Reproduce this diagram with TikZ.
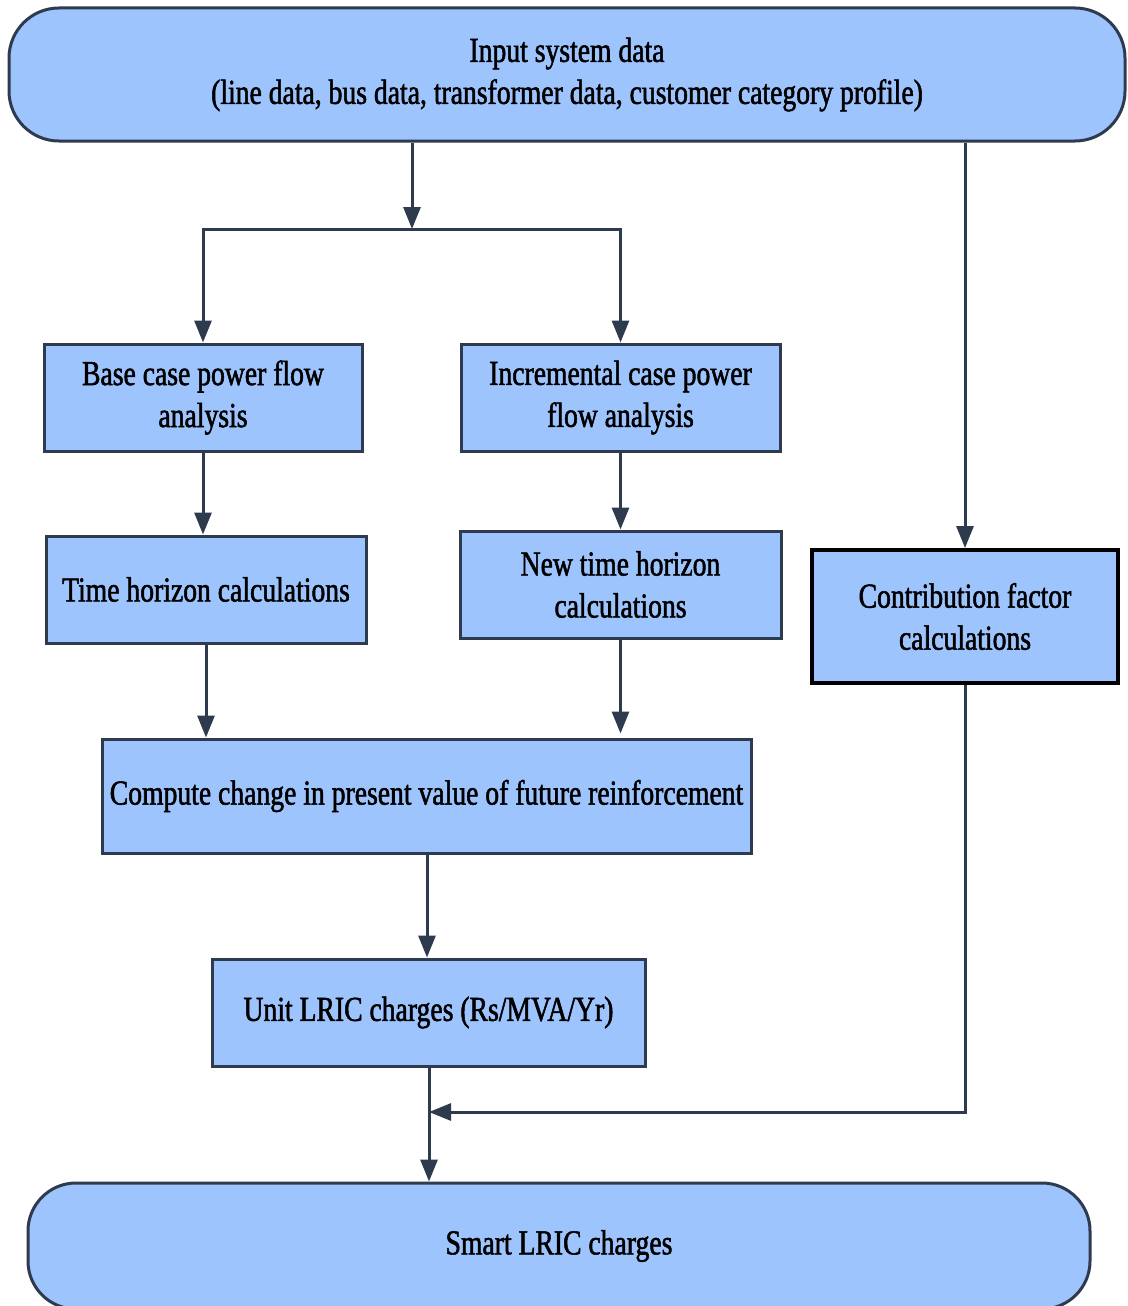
\documentclass[tikz,border=0pt]{standalone}
\usepackage{fontspec}
\setmainfont[FakeStretch=0.79,FakeBold=1.5]{Liberation Serif}
\usetikzlibrary{arrows.meta}
\definecolor{boxfill}{RGB}{158,196,254}
\definecolor{edge}{RGB}{46,58,78}
\tikzset{
  flowbox/.style={draw=edge, line width=3pt, fill=boxfill, align=center,
    inner sep=0pt, font=\fontsize{35}{42}\selectfont},
  terminal/.style={flowbox, rounded corners=50pt},
  arr/.style={draw=edge, line width=3pt,
    -{Triangle[width=17pt,length=22pt]}}
}
\begin{document}
\begin{tikzpicture}[x=1pt,y=-1pt]
\useasboundingbox (0,0) rectangle (1127,1306);

% terminals
\node[terminal, minimum width=1116pt, minimum height=133pt] (top) at (567,74.5)
  {Input system data\\(line data, bus data, transformer data, customer category profile)};
\node[terminal, rounded corners=48pt, minimum width=1062pt, minimum height=126pt] (smart) at (559,1246)
  {Smart LRIC charges};

% process boxes
\node[flowbox, minimum width=318pt, minimum height=107pt] (base) at (203,397.5)
  {Base case power flow\\analysis};
\node[flowbox, minimum width=319pt, minimum height=107pt] (incr) at (620.5,397.5)
  {Incremental case power\\flow analysis};
\node[flowbox, minimum width=320pt, minimum height=107pt] (time) at (206,589.5)
  {Time horizon calculations};
\node[flowbox, minimum width=321pt, minimum height=107pt] (newt) at (620.5,584.5)
  {New time horizon\\calculations};
\node[flowbox, draw=black, line width=4pt, minimum width=306pt, minimum height=133pt] (contrib) at (965,616.5)
  {Contribution factor\\calculations};
\node[flowbox, minimum width=649pt, minimum height=114pt] (comp) at (426.5,796)
  {Compute change in present value of future reinforcement};
\node[flowbox, minimum width=433pt, minimum height=107pt] (unit) at (428.5,1012.5)
  {Unit LRIC charges (Rs/MVA/Yr)};

% connectors
\coordinate (split) at (412,229);
\coordinate (join) at (429,1112);
\draw[arr] (top.south -| split) -- (split);
\draw[arr] (split) -| (base.north);
\draw[arr] (split) -| (incr.north);
\draw[arr] (base.south) -- (base.south |- time.north);
\draw[arr] (incr.south) -- (incr.south |- newt.north);
\draw[arr] (time.south) -- (time.south |- comp.north);
\draw[arr] (newt.south) -- ([yshift=4pt]newt.south |- comp.north);
\draw[arr] (comp.south -| 427,0) -- (unit.north -| 427,0);
\draw[arr] (top.south -| contrib.north) -- (contrib.north);
\draw[arr] (contrib.south) |- (join);
\draw[arr] (unit.south -| join) -- (smart.north -| join);
\end{tikzpicture}
\end{document}
